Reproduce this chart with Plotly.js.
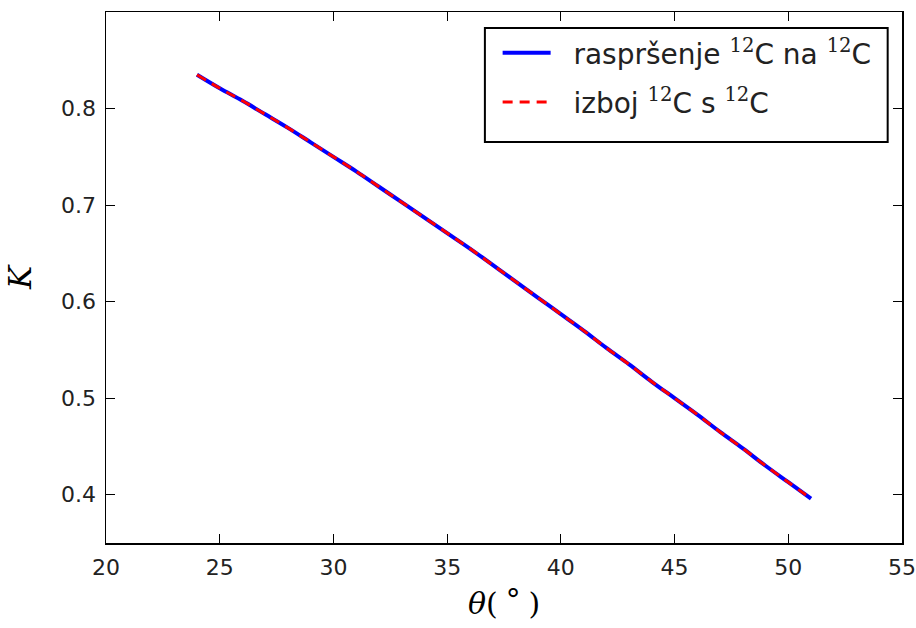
<!DOCTYPE html>
<html>
<head>
<meta charset="utf-8">
<script src="https://cdn.plot.ly/plotly-3.0.1.min.js"></script>
<style>html,body{margin:0;padding:0;background:#fff;}#chart{width:916px;height:628px;}</style>
</head>
<body>
<div id="chart"></div>
<script>
// Scattering angle theta (degrees)
const theta = [24,25,26,27,28,29,30,31,32,33,34,35,36,37,38,39,40,41,42,43,44,45,46,47,48,49,50,51];
// K for elastic scattering 12C on 12C
const kScatter = [0.835,0.821,0.808,0.794,0.780,0.765,0.750,0.735,0.719,0.703,0.687,0.671,0.655,0.638,0.621,0.604,0.587,0.570,0.552,0.535,0.517,0.500,0.483,0.465,0.448,0.430,0.413,0.396];
// K for 12C + 12C discharge
const kDischarge = [0.835,0.821,0.808,0.794,0.780,0.765,0.750,0.735,0.719,0.703,0.687,0.671,0.655,0.638,0.621,0.604,0.587,0.570,0.552,0.535,0.517,0.500,0.483,0.465,0.448,0.430,0.413,0.396];
const sup = '<span style="font-family:\'DejaVu Serif\'">12</span>';
const pad = '\u00a0\u00a0';
const names = [pad + 'raspršenje <sup>' + sup + '</sup>C na <sup>' + sup + '</sup>C', pad + 'izboj <sup>' + sup + '</sup>C s <sup>' + sup + '</sup>C'];
const xTicks = [20,25,30,35,40,45,50,55];
const yTicks = [0.4,0.5,0.6,0.7,0.8];

const traces = [
  {x: theta, y: kScatter, mode: 'lines', name: names[0], legendgroup: 'a', line: {color: '#0000ff', width: 4, shape: 'spline'}},
  {x: theta, y: kDischarge, mode: 'lines', name: names[1], legendgroup: 'b', line: {color: '#ff0000', width: 3, dash: '10px,7px', shape: 'spline'}}
];
const axisCommon = {
  showgrid: false, zeroline: false, showline: true, linecolor: '#000', linewidth: 1.5,
  mirror: 'ticks', ticks: 'inside', ticklen: 9, tickcolor: '#000', tickwidth: 1,
  tickfont: {family: 'DejaVu Sans', size: 22, color: '#222'}, ticklabelstandoff: 4,
  ticklabeloverflow: 'allow'
};
const layout = {
  width: 916, height: 628,
  margin: {l: 106, r: 14, t: 12, b: 85},
  paper_bgcolor: '#fff', plot_bgcolor: '#fff',
  showlegend: true,
  xaxis: Object.assign({}, axisCommon, {
    range: [20, 55], tickvals: xTicks, ticktext: xTicks.map(String),
    title: {text: '<i>θ</i>(\u2009<sup><span style="font-size:30px;font-family:\'DejaVu Sans\'">∘</span></sup>\u2009)', font: {family: 'DejaVu Serif', size: 30, color: '#000'}, standoff: 14}
  }),
  yaxis: Object.assign({}, axisCommon, {
    range: [0.35, 0.9], tickvals: yTicks, ticktext: yTicks.map(v => v.toFixed(1)),
    title: {text: '<i>K</i>', font: {family: 'DejaVu Serif', size: 31, color: '#000'}, standoff: 20}
  }),
  legend: {
    x: 0.492, y: 0.97, xanchor: 'left', yanchor: 'top',
    borderwidth: 0, bgcolor: 'rgba(0,0,0,0)',
    font: {family: 'DejaVu Sans', size: 28, color: '#222'},
    itemwidth: 48, tracegroupgap: 10
  },
  shapes: [{
    type: 'rect', xref: 'paper', yref: 'paper', layer: 'below',
    x0: 0.476, x1: 0.982, y0: 0.755, y1: 0.970,
    line: {color: '#000', width: 2}, fillcolor: '#fff'
  }]
};
Plotly.newPlot('chart', traces, layout, {displayModeBar: false, staticPlot: true});
</script>
</body>
</html>
